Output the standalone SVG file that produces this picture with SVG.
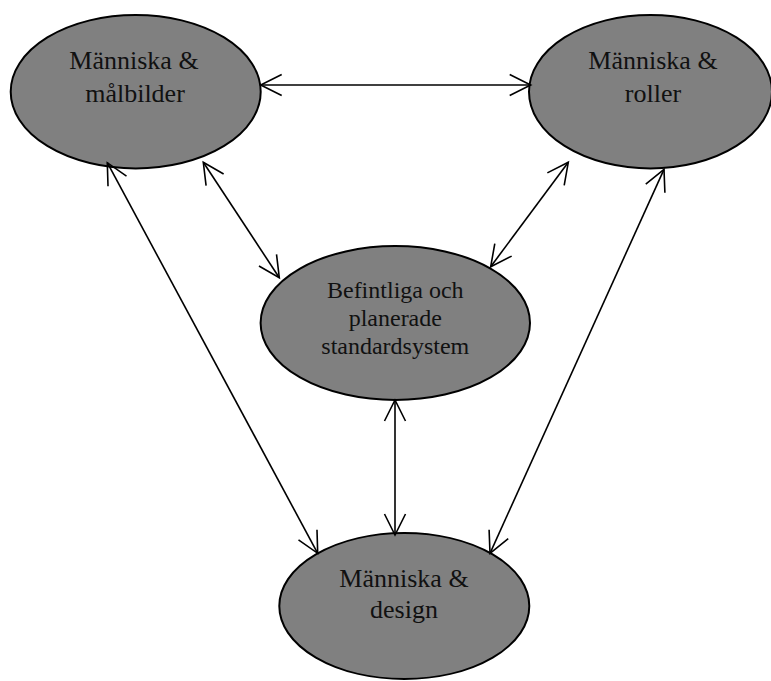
<svg xmlns="http://www.w3.org/2000/svg" width="771" height="681" viewBox="0 0 771 681">
  <style>
    .node ellipse { fill: #808080; stroke: #000; stroke-width: 2; }
    .node text { font-family: "Liberation Serif", "Times New Roman", serif; fill: #111; text-anchor: middle; }
    .big { font-size: 26px; }
    .small { font-size: 24px; }
    #connectors line { stroke: #000; stroke-width: 1.6; fill: none; marker-start: url(#vhead); marker-end: url(#vhead); }
  </style>
  <defs>
    <!-- open V arrowhead used on both ends of every connector -->
    <marker id="vhead" markerUnits="userSpaceOnUse" orient="auto-start-reverse" refX="0" refY="0" markerWidth="30" markerHeight="30" overflow="visible">
      <path d="M-21,-10.5 L0,0 L-21,10.5" fill="none" stroke="#000" stroke-width="1.6"/>
    </marker>
  </defs>
  <rect width="771" height="681" fill="#fff"/>

  <g id="node-malbilder" class="node">
    <ellipse cx="135.7" cy="91.7" rx="125" ry="76.7"/>
    <text class="big" x="134" y="69">Människa &amp;</text>
    <text class="big" x="135" y="101.5">målbilder</text>
  </g>

  <g id="node-roller" class="node">
    <ellipse cx="650.5" cy="91.7" rx="121.5" ry="76.7"/>
    <text class="big" x="653" y="69">Människa &amp;</text>
    <text class="big" x="653" y="101.5">roller</text>
  </g>

  <g id="node-standardsystem" class="node">
    <ellipse cx="395.3" cy="323" rx="134.7" ry="77"/>
    <text class="small" x="395.3" y="298">Befintliga och</text>
    <text class="small" x="395.3" y="326">planerade</text>
    <text class="small" x="395.3" y="353.5">standardsystem</text>
  </g>

  <g id="node-design" class="node">
    <ellipse cx="404.3" cy="606" rx="125" ry="73"/>
    <text class="big" x="404" y="587.3">Människa &amp;</text>
    <text class="big" x="404" y="618">design</text>
  </g>

  <g id="connectors">
    <line x1="260.7" y1="85" x2="530.7" y2="85"/>
    <line x1="107.3" y1="162.7" x2="317.7" y2="553.3"/>
    <line x1="203.3" y1="162.3" x2="279.3" y2="277.7"/>
    <line x1="568.3" y1="162.3" x2="490.7" y2="266.7"/>
    <line x1="664" y1="169.3" x2="490" y2="553.3"/>
    <line x1="395" y1="400" x2="395" y2="535"/>
  </g>
</svg>
